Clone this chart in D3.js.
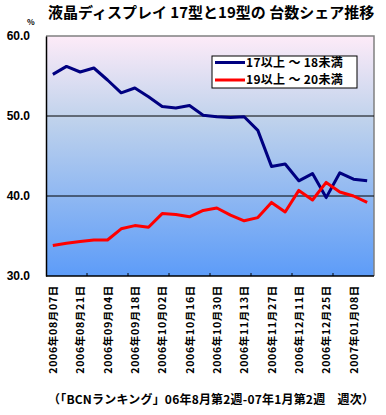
<!DOCTYPE html>
<html>
<head>
<meta charset="utf-8">
<script src="https://cdn.jsdelivr.net/npm/d3@7"></script>
<style>
  body { margin: 0; background: #fff; }
  svg { display: block; font-family: "Noto Sans CJK JP", "DejaVu Sans", sans-serif; }
</style>
</head>
<body>
<svg id="chart" width="386" height="415"></svg>
<script>
// weekly categories (last week has no label)
const weeks = [
  "2006年08月07日", "2006年08月14日", "2006年08月21日", "2006年08月28日",
  "2006年09月04日", "2006年09月11日", "2006年09月18日", "2006年09月25日",
  "2006年10月02日", "2006年10月09日", "2006年10月16日", "2006年10月23日",
  "2006年10月30日", "2006年11月06日", "2006年11月13日", "2006年11月20日",
  "2006年11月27日", "2006年12月04日", "2006年12月11日", "2006年12月18日",
  "2006年12月25日", "2007年01月01日", "2007年01月08日", "2007年01月15日"
];
const size17 = [55.2, 56.2, 55.5, 56.0, 54.5, 52.9, 53.5, 52.4, 51.2, 51.0, 51.3, 50.1,
                49.9, 49.8, 49.9, 48.2, 43.7, 44.0, 41.9, 42.8, 39.8, 42.9, 42.1, 41.9];
const size19 = [33.8, 34.1, 34.3, 34.5, 34.5, 35.9, 36.3, 36.1, 37.8, 37.7, 37.4, 38.2,
                38.5, 37.6, 36.9, 37.3, 39.2, 38.0, 40.7, 39.5, 41.7, 40.5, 40.0, 39.2];
const series = [
  { name: "17以上 ～ 18未満", values: size17, color: "#000080" },
  { name: "19以上 ～ 20未満", values: size19, color: "#ff0000" }
];
const yTicks = [30, 40, 50, 60];

const svg = d3.select("#chart");
const plot = { left: 46, right: 374, top: 36, bottom: 276 };

const x = d3.scaleBand().domain(weeks).range([plot.left, plot.right]);
const y = d3.scaleLinear().domain([30, 60]).range([plot.bottom, plot.top]);
const cx = d => x(d) + x.bandwidth() / 2;

// background gradient
const defs = svg.append("defs");
const grad = defs.append("linearGradient").attr("id", "bg")
  .attr("x1", 0).attr("y1", 0).attr("x2", 0).attr("y2", 1);
grad.append("stop").attr("offset", "0%").attr("stop-color", "#fdebf8");
grad.append("stop").attr("offset", "35%").attr("stop-color", "#bfd2ec");
grad.append("stop").attr("offset", "100%").attr("stop-color", "#5d9cf8");

svg.append("rect")
  .attr("x", plot.left).attr("y", plot.top)
  .attr("width", plot.right - plot.left).attr("height", plot.bottom - plot.top)
  .attr("fill", "url(#bg)");

// gray top/right border
svg.append("path")
  .attr("d", `M${plot.left},${plot.top}H${plot.right}V${plot.bottom}`)
  .attr("fill", "none").attr("stroke", "#808080").attr("stroke-width", 1.5);

// gridlines
svg.append("g").selectAll("line")
  .data(yTicks.filter(t => t > 30 && t < 60))
  .join("line")
  .attr("x1", plot.left).attr("x2", plot.right)
  .attr("y1", d => y(d)).attr("y2", d => y(d))
  .attr("stroke", "#000").attr("stroke-width", 1);

// y axis
const yAxis = svg.append("g").attr("transform", `translate(${plot.left},0)`)
  .call(d3.axisLeft(y).tickValues(yTicks).tickSize(0).tickPadding(16).tickFormat(d3.format(".1f")));
yAxis.select(".domain").attr("stroke", "#000").attr("stroke-width", 1.5);
yAxis.selectAll("text")
  .attr("font-size", 12).attr("font-weight", "bold").attr("fill", "#000")
  .attr("font-family", "'Liberation Sans', Arial, sans-serif");

// x axis with ticks every 3 weeks, labels every 2 weeks
const xAxis = svg.append("g").attr("transform", `translate(0,${plot.bottom})`);
xAxis.append("line").attr("x1", plot.left).attr("x2", plot.right)
  .attr("stroke", "#000").attr("stroke-width", 1.5);
xAxis.selectAll(".tk")
  .data(weeks.filter((d, i) => i > 0 && i % 3 === 0))
  .join("line").attr("class", "tk")
  .attr("x1", d => x(d)).attr("x2", d => x(d))
  .attr("y1", 0).attr("y2", -3)
  .attr("stroke", "#000");
xAxis.selectAll("text")
  .data(weeks.filter((d, i) => i % 2 === 0 && i < 23))
  .join("text")
  .attr("transform", d => `translate(${cx(d) + 4},${9}) rotate(-90)`)
  .attr("text-anchor", "end")
  .attr("font-size", 10.5).attr("font-weight", "bold")
  .attr("letter-spacing", 0.7)
  .text(d => d);

// lines
const line = d3.line().x((d, i) => cx(weeks[i])).y(d => y(d));
svg.append("g").selectAll("path")
  .data(series)
  .join("path")
  .attr("d", d => line(d.values))
  .attr("fill", "none")
  .attr("stroke", d => d.color)
  .attr("stroke-width", 3)
  .attr("stroke-linejoin", "round");

// legend
const lg = svg.append("g").attr("transform", "translate(212,56)");
lg.append("rect").attr("width", 145).attr("height", 32)
  .attr("fill", "#fff").attr("stroke", "#000").attr("stroke-width", 1);
const li = lg.selectAll("g").data(series).join("g")
  .attr("transform", (d, i) => `translate(0,${6.5 + i * 17.5})`);
li.append("line").attr("x1", 3).attr("x2", 33)
  .attr("stroke", d => d.color).attr("stroke-width", 3);
li.append("text").attr("x", 34).attr("y", 4)
  .attr("font-size", 12).attr("font-weight", "bold")
  .attr("letter-spacing", 0.3)
  .text(d => d.name);

// titles
svg.append("text").attr("x", 48).attr("y", 18)
  .attr("font-size", 15).attr("font-weight", "bold")
  .text("液晶ディスプレイ 17型と19型の 台数シェア推移");
svg.append("text").attr("x", 27).attr("y", 25)
  .attr("font-size", 8).attr("font-weight", "bold")
  .text("%");
svg.append("text").attr("x", 48).attr("y", 404)
  .attr("font-size", 12).attr("font-weight", "bold")
  .attr("letter-spacing", 0.2)
  .text("（「BCNランキング」06年8月第2週-07年1月第2週　週次）");
</script>
</body>
</html>
